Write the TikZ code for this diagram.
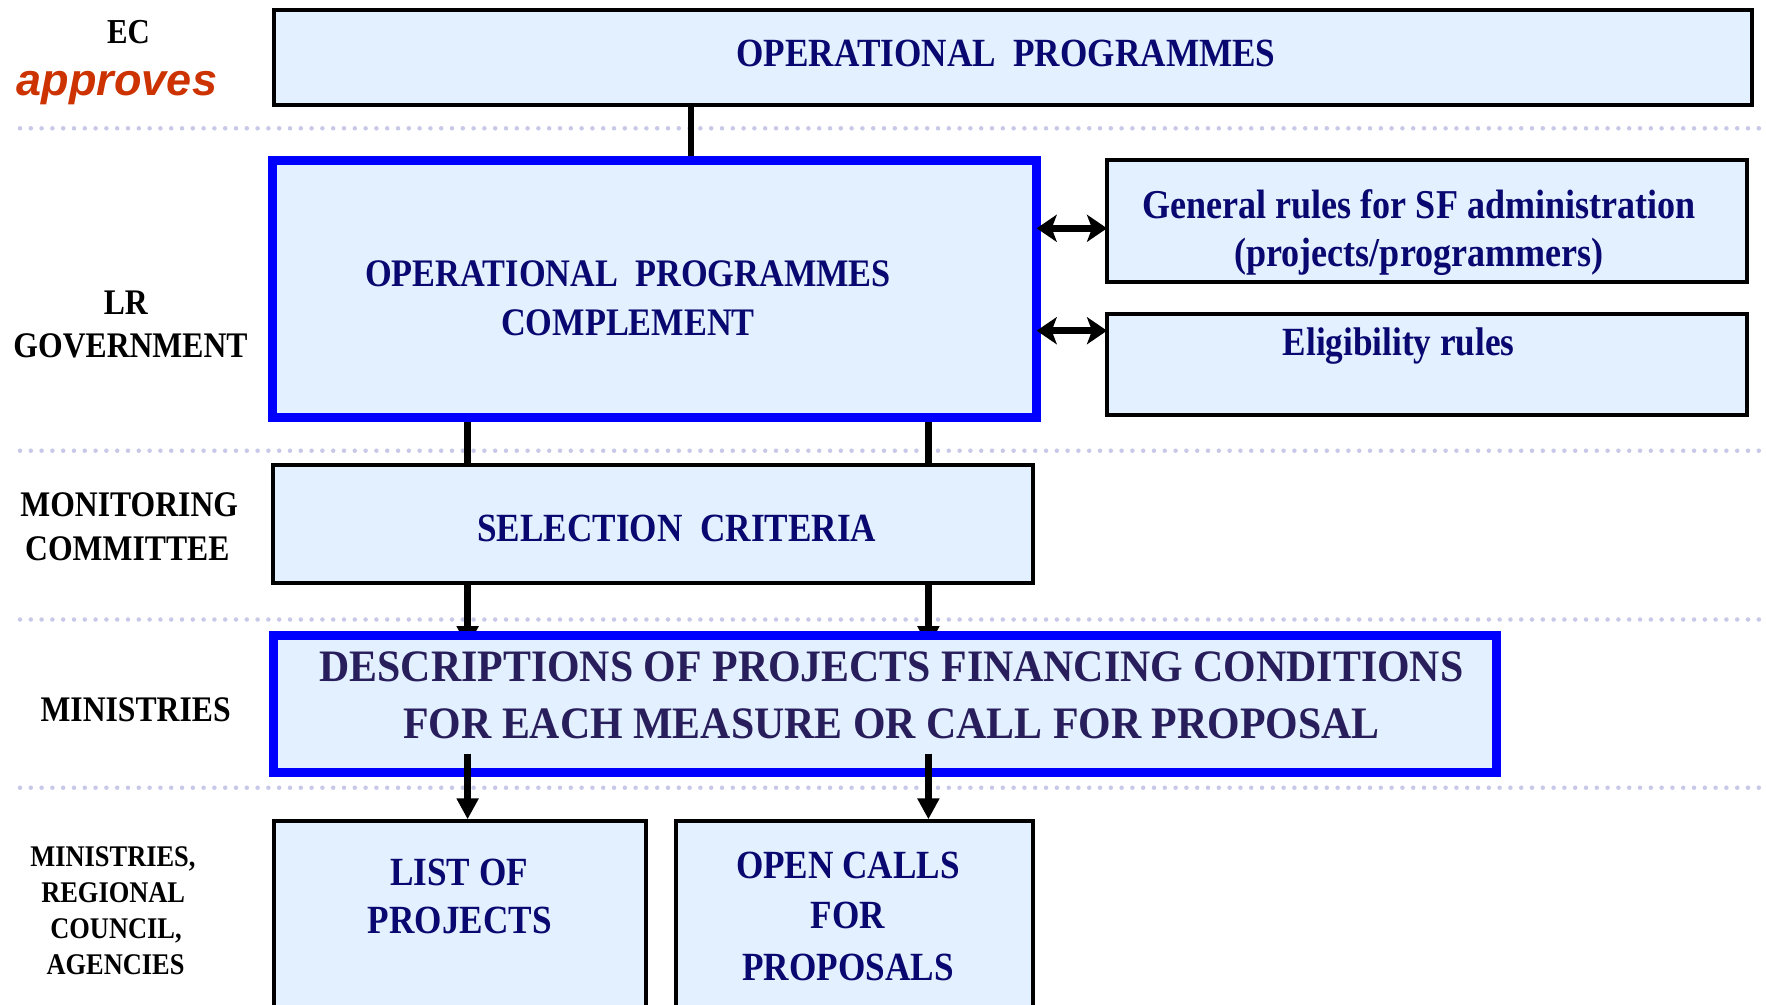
\documentclass[tikz,border=0pt]{standalone}
\usepackage{fontspec}
\setmainfont{Liberation Serif}
\newfontfamily\tnr[FakeStretch=0.88]{Liberation Serif}
\newfontfamily\tnrw[FakeStretch=0.93]{Liberation Serif}
\newfontfamily\arialf{Liberation Sans}
\usetikzlibrary{arrows.meta}
\definecolor{boxfill}{RGB}{227,240,255}
\definecolor{navytxt}{RGB}{8,8,112}
\definecolor{desctxt}{RGB}{40,30,92}
\definecolor{approvecol}{RGB}{204,51,0}
\definecolor{dotcol}{RGB}{200,200,232}
\definecolor{bluebrd}{RGB}{0,0,255}
\pgfdeclarelayer{background}
\pgfsetlayers{background,main}
\tikzset{
  box/.style={draw=black, line width=4pt, fill=boxfill, rectangle, inner sep=0pt, outer sep=0pt, anchor=north west},
  bluebox/.style={box, draw=bluebrd, line width=9pt},
  boxtxt/.style={anchor=base, inner sep=0pt, text=navytxt, font=\tnr\bfseries\fontsize{40}{48}\selectfont},
  boxtxtb/.style={boxtxt, font=\tnr\bfseries\fontsize{39}{48}\selectfont},
  boxtxtc/.style={boxtxt, font=\tnr\bfseries\fontsize{41}{48}\selectfont},
  desctxtst/.style={anchor=base, inner sep=0pt, text=desctxt, font=\tnrw\bfseries\fontsize{45}{54}\selectfont},
  lbl/.style={anchor=base, inner sep=0pt, text=black, font=\tnr\bfseries\fontsize{36}{42}\selectfont},
  lblsmall/.style={lbl, font=\tnr\bfseries\fontsize{30}{36}\selectfont},
  dotline/.style={draw=dotcol, line width=4.5pt, line cap=round, dash pattern=on 0pt off 10.8pt},
  conn/.style={draw=black, line width=6.5pt},
  darrow/.style={conn, {Stealth[length=20pt,width=27pt,inset=5pt]}-{Stealth[length=20pt,width=27pt,inset=5pt]}},
  sarrow/.style={conn, -{Triangle[length=21pt,width=21pt]}},
}
\begin{document}
\begin{tikzpicture}[x=1pt,y=-1pt]
\clip (0,0) rectangle (1766,1004);

% boxes
\node[box, minimum width=1478.5pt, minimum height=95.5pt] (op) at (273.5,9.5) {};
\node[bluebox, minimum width=764.2pt, minimum height=257pt] (opc) at (272.5,160) {};
\node[box, minimum width=640pt, minimum height=121.7pt] (gr) at (1107,160.3) {};
\node[box, minimum width=640pt, minimum height=100.7pt] (el) at (1107,314) {};
\node[box, minimum width=760pt, minimum height=118.3pt] (sel) at (273,465) {};
\node[bluebox, minimum width=1222.5pt, minimum height=137.7pt] (desc) at (273.5,635) {};
\node[box, minimum width=371.7pt, minimum height=208.7pt] (lp) at (273.8,821.3) {};
\node[box, minimum width=356.9pt, minimum height=208.7pt] (oc) at (675.7,821.3) {};

% helper coordinates
\coordinate (xa) at (690.8,0);
\coordinate (xl) at (467.6,0);
\coordinate (xr) at (928.4,0);
\coordinate (ya) at (0,228.3);
\coordinate (yb) at (0,330.7);

% dotted separators and connectors behind the boxes
\begin{pgfonlayer}{background}
  \fill[white] (0,0) rectangle (1766,1004);
  \coordinate (d0) at (20,128.3);  \coordinate (e0) at (1766,128.3);
  \coordinate (d1) at (20,450.7);  \coordinate (e1) at (1766,450.7);
  \coordinate (d2) at (20,619.5);  \coordinate (e2) at (1766,619.5);
  \coordinate (d3) at (20,787.7);  \coordinate (e3) at (1766,787.7);
  \draw[dotline] (d0) -- (e0);
  \draw[dotline] (d1) -- (e1);
  \draw[dotline] (d2) -- (e2);
  \draw[dotline] (d3) -- (e3);
  \draw[conn] (op.south -| xa) -- (opc.north -| xa);
  \draw[conn] (opc.south -| xl) -- (sel.north -| xl);
  \draw[conn] (opc.south -| xr) -- (sel.north -| xr);
  \draw[sarrow, shorten >=-12pt] (sel.south -| xl) -- (desc.north -| xl);
  \draw[sarrow, shorten >=-12pt] (sel.south -| xr) -- (desc.north -| xr);
\end{pgfonlayer}

% visible connectors
\draw[darrow] (opc.east |- ya) -- (gr.west |- ya);
\draw[darrow] (opc.east |- yb) -- (el.west |- yb);
\draw[sarrow, shorten >=2pt] ([yshift=19pt]desc.south -| xl) -- (lp.north -| xl);
\draw[sarrow, shorten >=2pt] ([yshift=19pt]desc.south -| xr) -- (oc.north -| xr);

% box texts
\node[boxtxt] (top) at (1006,66.7) {OPERATIONAL\ \ PROGRAMMES};
\node[boxtxtb] (topc1) at (628,286.7) {OPERATIONAL\ \ PROGRAMMES};
\node[boxtxtb] (topc2) at (628,335) {COMPLEMENT};
\node[boxtxtc] (tgr1) at (1419,218.3) {General rules for SF administration};
\node[boxtxtc] (tgr2) at (1419,266.7) {(projects/programmers)};
\node[boxtxt] (tel) at (1398.7,355) {Eligibility rules};
\node[boxtxt] (tsel) at (676.8,541.7) {SELECTION\ \ CRITERIA};
\node[desctxtst] (tdesc1) at (891.5,681.7) {DESCRIPTIONS OF PROJECTS FINANCING CONDITIONS};
\node[desctxtst] (tdesc2) at (891.5,738.3) {FOR EACH MEASURE OR CALL FOR PROPOSAL};
\node[boxtxt] (tlp1) at (459,885) {LIST OF};
\node[boxtxt] (tlp2) at (459.7,933.3) {PROJECTS};
\node[boxtxt] (toc1) at (848,878.3) {OPEN CALLS};
\node[boxtxt] (toc2) at (848,928.3) {FOR};
\node[boxtxt] (toc3) at (848,980) {PROPOSALS};

% left labels
\node[lbl, font=\tnr\bfseries\fontsize{35}{42}\selectfont] (tec) at (128.4,43.3) {EC};
\node[anchor=base, inner sep=0pt, text=approvecol, font=\arialf\bfseries\itshape\fontsize{45}{54}\selectfont] (tapp) at (117,95) {approves};
\node[lbl] (tlr) at (125.8,314.3) {LR};
\node[lbl] (tgov) at (130.5,357.3) {GOVERNMENT};
\node[lbl] (tmon) at (129.2,516) {MONITORING};
\node[lbl] (tcom) at (127.3,560.7) {COMMITTEE};
\node[lbl] (tmin) at (135.6,721.7) {MINISTRIES};
\node[lblsmall] (tm1) at (113,866.7) {MINISTRIES,};
\node[lblsmall] (tm2) at (113.2,902.7) {REGIONAL};
\node[lblsmall] (tm3) at (116,938.3) {COUNCIL,};
\node[lblsmall] (tm4) at (115.5,974.3) {AGENCIES};
\end{tikzpicture}
\end{document}
